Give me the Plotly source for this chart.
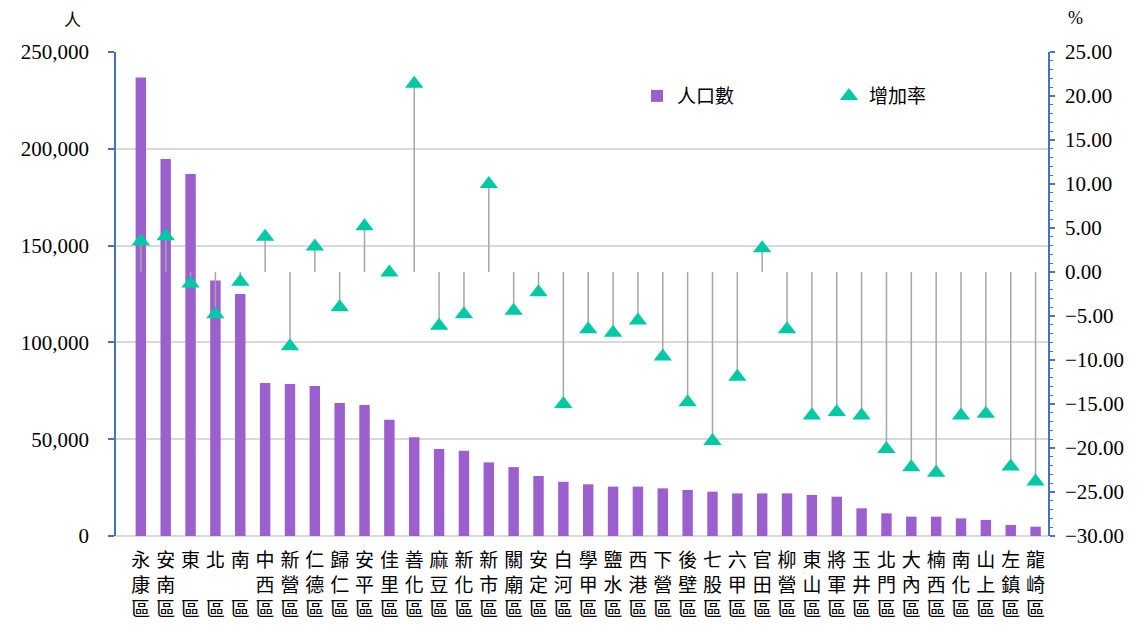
import plotly.graph_objects as go

districts = ["永康區", "安南區", "東區", "北區", "南區", "中西區", "新營區", "仁德區", "歸仁區", "安平區",
             "佳里區", "善化區", "麻豆區", "新化區", "新市區", "關廟區", "安定區", "白河區", "學甲區", "鹽水區",
             "西港區", "下營區", "後壁區", "七股區", "六甲區", "官田區", "柳營區", "東山區", "將軍區", "玉井區",
             "北門區", "大內區", "楠西區", "南化區", "山上區", "左鎮區", "龍崎區"]

population = [236800, 194700, 187000, 132000, 125000, 79000, 78500, 77500, 68700, 67700,
              60000, 51000, 45000, 44000, 38000, 35600, 31000, 28000, 26700, 25500,
              25500, 24600, 23800, 22900, 22000, 22000, 22000, 21200, 20300, 14300,
              11700, 10000, 10000, 9100, 8300, 5700, 4800]

growth = [3.5, 4.05, -1.3, -4.8, -1.1, 4.0, -8.45, 2.9, -4.0, 5.2,
          -0.05, 21.4, -6.1, -4.8, 10.0, -4.4, -2.3, -15.0, -6.5, -6.9,
          -5.5, -9.6, -14.8, -19.2, -11.9, 2.7, -6.5, -16.3, -15.9, -16.3,
          -20.1, -22.2, -22.8, -16.3, -16.1, -22.1, -23.8]

left_ticks = [0, 50000, 100000, 150000, 200000, 250000]
right_ticks = [25, 20, 15, 10, 5, 0, -5, -10, -15, -20, -25, -30]


def vertical_label(name):
    chars = list(name)
    if len(chars) == 2:
        chars = [chars[0], "\u3000", chars[1]]
    return "<br>".join(chars)


x_idx = list(range(len(districts)))
x_labels = [vertical_label(d) for d in districts]

err_plus = [(-g if g < 0 else 0) for g in growth]
err_minus = [(g if g > 0 else 0) for g in growth]

fig = go.Figure()
fig.add_trace(go.Bar(
    x=x_idx, y=population, name="人口數", width=0.42,
    marker=dict(color="#9C5FCE", line=dict(width=0)),
    yaxis="y",
))
fig.add_trace(go.Scatter(
    x=x_idx, y=growth, name="增加率", mode="markers", yaxis="y2",
    marker=dict(symbol="triangle-up", size=16, color="#00C9A3", line=dict(width=0)),
    error_y=dict(type="data", symmetric=False, array=err_plus, arrayminus=err_minus,
                 width=0, thickness=1.5, color="#A6A6A6"),
))

font_num = "Liberation Serif"
axis_blue = "#4472C4"

fig.update_layout(
    width=1139, height=628,
    margin=dict(l=116, r=91, t=52, b=92, autoexpand=False),
    plot_bgcolor="white", paper_bgcolor="white",
    showlegend=True,
    legend=dict(orientation="h", x=0.559, y=0.909, xanchor="left", yanchor="middle",
                font=dict(family="Noto Sans CJK TC", size=19, color="#000"),
                entrywidth=147, entrywidthmode="pixels", bgcolor="rgba(0,0,0,0)"),
    bargap=0.5,
    xaxis=dict(
        range=[-1.0, 36.5], tickmode="array", tickvals=x_idx, ticktext=x_labels,
        tickfont=dict(family="Noto Sans CJK TC", size=19, color="#000"),
        showgrid=False, showline=False, zeroline=False, ticks="",
        tickangle=0, automargin=False, ticklabelstandoff=11,
    ),
    yaxis=dict(
        range=[0, 250000], tickmode="array", tickvals=left_ticks,
        tickformat=",", tickfont=dict(family=font_num, size=21, color="#000"),
        showgrid=True, gridcolor="#D9D9D9", gridwidth=1.5,
        zeroline=True, zerolinecolor="#D9D9D9", zerolinewidth=2,
        showline=True, linecolor=axis_blue, linewidth=1.5,
        ticks="outside", ticklen=6, tickcolor=axis_blue, tickwidth=1.5,
        ticklabelstandoff=15, automargin=False,
    ),
    yaxis2=dict(
        range=[-30, 25], overlaying="y", side="right", anchor="x",
        tickmode="array", tickvals=right_ticks, tickformat=".2f",
        tickfont=dict(family=font_num, size=21, color="#000"),
        showgrid=False, zeroline=False,
        showline=True, linecolor=axis_blue, linewidth=1.5,
        ticks="outside", ticklen=5, tickcolor=axis_blue, tickwidth=1.5,
        minor=dict(dtick=1, ticks="outside", ticklen=3, tickcolor=axis_blue, tickwidth=1),
        ticklabelstandoff=6, automargin=False,
    ),
    annotations=[
        dict(text="人", xref="paper", yref="paper", x=-0.047, y=1.0, yshift=34,
             xanchor="center", yanchor="middle", showarrow=False,
             font=dict(family="Noto Sans CJK TC", size=17, color="#000")),
        dict(text="%", xref="paper", yref="paper", x=1.029, y=1.0, yshift=34,
             xanchor="center", yanchor="middle", showarrow=False,
             font=dict(family=font_num, size=18, color="#000")),
    ],
)

fig.write_html("out.html", config={"displayModeBar": False},
               post_script="document.body.style.margin='0';")
